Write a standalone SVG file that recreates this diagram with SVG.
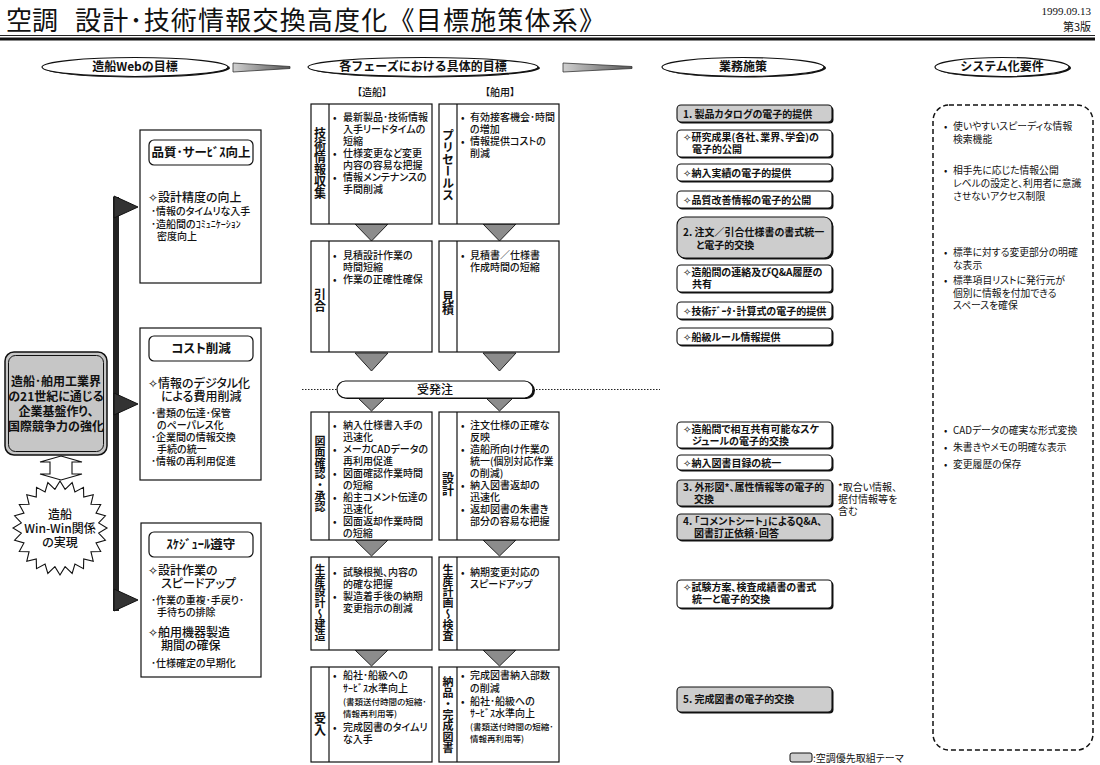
<svg xmlns="http://www.w3.org/2000/svg" width="1100" height="765" viewBox="0 0 1100 765">
<defs>
<linearGradient id="wedge" x1="0" x2="1" y1="0" y2="0"><stop offset="0" stop-color="#d0d0d0"/><stop offset="1" stop-color="#555"/></linearGradient>
</defs>
<style>
text{font-family:"Noto Sans CJK JP","DejaVu Sans",sans-serif;fill:#111;}
.title{font-size:26px;}
.date{font-family:"Liberation Serif",serif;font-size:11px;text-anchor:end;}
.ver{font-size:11px;text-anchor:end;}
.hd{font-size:12px;font-weight:bold;text-anchor:middle;}
.ell{fill:#fff;stroke:#111;stroke-width:1.2;}
.sh{fill:#111;stroke:none;}
.box{fill:#fff;stroke:#111;stroke-width:1.2;}
.div{stroke:#111;stroke-width:1.2;}
.vl{font-size:12px;font-weight:bold;writing-mode:vertical-rl;text-anchor:middle;}
.vs{font-size:11px;}
.bt{font-size:10px;font-weight:500;font-feature-settings:"palt";}
.sm{font-size:8.5px;}
.tri{fill:#8c8c8c;stroke:#222;stroke-width:1;}
.pol{fill:#fff;stroke:#111;stroke-width:1.1;}
.pri{fill:#cdcdcd;stroke:#111;stroke-width:1.1;}
.pt{font-size:10px;font-weight:bold;font-feature-settings:"palt";}
.req{font-size:9.8px;font-feature-settings:"palt";}
.lh{font-size:12.5px;font-weight:bold;text-anchor:middle;font-feature-settings:"palt";}
.lm{font-size:12px;font-weight:500;font-feature-settings:"palt";}
.ls{font-size:10px;font-weight:500;font-feature-settings:"palt";}
.goal{font-size:12px;font-weight:bold;text-anchor:middle;font-feature-settings:"palt";}
.note{font-size:10px;font-feature-settings:"palt";}
</style>
<rect width="1100" height="765" fill="#fff"/>

<g id="header">
<text class="title" x="6" y="30">空調</text>
<text class="title" x="75" y="30" textLength="530" lengthAdjust="spacing">設計･技術情報交換高度化《目標施策体系》</text>
<text class="date" x="1091" y="15">1999.09.13</text>
<text class="ver" x="1091" y="31">第3版</text>
<line x1="0" y1="35.5" x2="1095" y2="35.5" stroke="#222" stroke-width="1"/>
<line x1="0" y1="39" x2="1095" y2="39" stroke="#111" stroke-width="3"/>
</g>

<g id="h-goal">
<ellipse class="sh" cx="137" cy="68" rx="93" ry="9.5"/>
<ellipse class="ell" cx="135" cy="67" rx="93" ry="9.5"/>
<text class="hd" x="135" y="71">造船Webの目標</text>
</g>
<g id="h-phase">
<ellipse class="sh" cx="425" cy="68" rx="115" ry="9.5"/>
<ellipse class="ell" cx="423" cy="67" rx="115" ry="9.5"/>
<text class="hd" x="423" y="71">各フェーズにおける具体的目標</text>
</g>
<g id="h-measure">
<ellipse class="sh" cx="745" cy="68" rx="81" ry="9.5"/>
<ellipse class="ell" cx="743" cy="67" rx="81" ry="9.5"/>
<text class="hd" x="743" y="71">業務施策</text>
</g>
<g id="h-system">
<ellipse class="sh" cx="1004" cy="68" rx="67" ry="9.5"/>
<ellipse class="ell" cx="1002" cy="67" rx="67" ry="9.5"/>
<text class="hd" x="1002" y="71">システム化要件</text>
</g>

<g id="col-labels">
<text class="bt" x="372" y="96" text-anchor="middle">【造船】</text>
<text class="bt" x="500" y="96" text-anchor="middle">【舶用】</text>
</g>

<g id="connectors">
<polygon points="233,63 290,66.5 290,68.5 233,72" fill="url(#wedge)" stroke="#333" stroke-width="0.8"/>
<polygon points="563,63 632,66.5 632,68.5 563,72" fill="url(#wedge)" stroke="#333" stroke-width="0.8"/>
<rect x="113" y="197" width="6" height="414" fill="#222"/>
<polygon points="114,196 138,207 114,218" fill="#333" stroke="#111" stroke-width="1"/>
<polygon points="114,393 138,404 114,415" fill="#333" stroke="#111" stroke-width="1"/>
<polygon points="114,589 138,600 114,611" fill="#333" stroke="#111" stroke-width="1"/>
<polygon points="61,456 82,462 72,462 72,474 82,474 61,480 40,474 50,474 50,462 40,462" fill="#fff" stroke="#111" stroke-width="1.1"/>
<line x1="302" y1="389.5" x2="660" y2="389.5" stroke="#222" stroke-width="1.2" stroke-dasharray="1.5,1.5"/>
<polygon class="tri" points="355,224 388,224 371.5,241"/>
<polygon class="tri" points="483,224 516,224 499.5,241"/>
<polygon class="tri" points="355,353 388,353 371.5,371"/>
<polygon class="tri" points="483,353 516,353 499.5,371"/>
<polygon class="tri" points="358,398 385,398 371.5,411"/>
<polygon class="tri" points="486,398 513,398 499.5,411"/>
<polygon class="tri" points="355,540 388,540 371.5,556"/>
<polygon class="tri" points="483,540 516,540 499.5,556"/>
<polygon class="tri" points="355,650 388,650 371.5,666"/>
<polygon class="tri" points="483,650 516,650 499.5,666"/>
</g>

<g id="goal-main">
<rect x="5" y="352" width="102" height="103" rx="9" fill="#c6c6c6" stroke="#111" stroke-width="1.5"/>
<rect x="8.5" y="355.5" width="95" height="96" rx="7" fill="none" stroke="#111" stroke-width="1"/>
<text class="goal" x="56" y="386">造船･舶用工業界<tspan x="56" dy="15">の21世紀に通じる</tspan><tspan x="56" dy="15">企業基盤作り、</tspan><tspan x="56" dy="15">国際競争力の強化</tspan></text>
</g>

<g id="winwin">
<polygon points="107,528 98.66,533.09 105.4,540.16 96.03,542.93 100.7,551.5 90.94,551.74 93.23,561.23 83.74,558.94 83.5,568.7 74.93,564.03 72.16,573.4 65.09,566.66 60,575 54.91,566.66 47.84,573.4 45.07,564.03 36.5,568.7 36.26,558.94 26.77,561.23 29.06,551.74 19.3,551.5 23.97,542.93 14.6,540.16 21.34,533.09 13,528 21.34,522.91 14.6,515.84 23.97,513.07 19.3,504.5 29.06,504.26 26.77,494.77 36.26,497.06 36.5,487.3 45.07,491.97 47.84,482.6 54.91,489.34 60,481 65.09,489.34 72.16,482.6 74.93,491.97 83.5,487.3 83.74,497.06 93.23,494.77 90.94,504.26 100.7,504.5 96.03,513.07 105.4,515.84 98.66,522.91" fill="#fff" stroke="#111" stroke-width="1.1"/>
<text class="lm" x="60" y="519" text-anchor="middle">造船<tspan x="60" dy="14">Win-Win関係</tspan><tspan x="60" dy="14">の実現</tspan></text>
</g>

<g id="goal-quality">
<rect class="box" x="140" y="130" width="121" height="153"/>
<rect class="box" x="149" y="140" width="104" height="25" rx="5"/>
<text class="lh" x="201" y="157">品質･サーﾋﾞｽ向上</text>
<text class="lm" x="148" y="202">✧設計精度の向上</text>
<text class="ls" x="151" y="215">･情報のタイムリな入手<tspan x="151" dy="13">･造船間のｺﾐｭﾆｹｰｼｮﾝ</tspan><tspan x="157" dy="12">密度向上</tspan></text>
</g>

<g id="goal-cost">
<rect class="box" x="140" y="328" width="121" height="152"/>
<rect class="box" x="149" y="336" width="104" height="25" rx="5"/>
<text class="lh" x="201" y="353">コスト削減</text>
<text class="lm" x="148" y="388">✧情報のデジタル化<tspan x="161" dy="13">による費用削減</tspan></text>
<text class="ls" x="151" y="417">･書類の伝達･保管<tspan x="157" dy="12">のペーパレス化</tspan><tspan x="151" dy="12">･企業間の情報交換</tspan><tspan x="157" dy="12">手続の統一</tspan><tspan x="151" dy="12">･情報の再利用促進</tspan></text>
</g>

<g id="goal-schedule">
<rect class="box" x="141" y="523" width="120" height="154"/>
<rect class="box" x="149" y="532" width="104" height="25" rx="5"/>
<text class="lh" x="201" y="549">ｽｹｼﾞｭｰﾙ遵守</text>
<text class="lm" x="148" y="575">✧設計作業の<tspan x="161" dy="13">スピードアップ</tspan></text>
<text class="ls" x="151" y="604">･作業の重複･手戻り･<tspan x="157" dy="12">手待ちの排除</tspan></text>
<text class="lm" x="148" y="637">✧舶用機器製造<tspan x="161" dy="13">期間の確保</tspan></text>
<text class="ls" x="151" y="667">･仕様確定の早期化</text>
</g>

<g id="ph-ship-1">
<rect class="box" x="311" y="104" width="121" height="120"/>
<line class="div" x1="329" y1="104" x2="329" y2="224"/>
<text class="vl" x="320" y="163">技術情報収集</text>
<text class="bt" x="333" y="121">•<tspan x="333" dy="36">•</tspan><tspan x="333" dy="24">•</tspan></text>
<text class="bt" x="343" y="121">最新製品･技術情報<tspan x="343" dy="12">入手リードタイムの</tspan><tspan x="343" dy="12">短縮</tspan><tspan x="343" dy="12">仕様変更など変更</tspan><tspan x="343" dy="12">内容の容易な把握</tspan><tspan x="343" dy="12">情報メンテナンスの</tspan><tspan x="343" dy="12">手間削減</tspan></text>
</g>
<g id="ph-marine-1">
<rect class="box" x="439" y="104" width="120" height="120"/>
<line class="div" x1="457" y1="104" x2="457" y2="224"/>
<text class="vl" x="448" y="165">プリセールス</text>
<text class="bt" x="461" y="121">•<tspan x="461" dy="24">•</tspan></text>
<text class="bt" x="470" y="121">有効接客機会･時間<tspan x="470" dy="12">の増加</tspan><tspan x="470" dy="12">情報提供コストの</tspan><tspan x="470" dy="12">削減</tspan></text>
</g>

<g id="ph-ship-2">
<rect class="box" x="311" y="241" width="121" height="111"/>
<line class="div" x1="329" y1="241" x2="329" y2="352"/>
<text class="vl" x="320" y="300">引合</text>
<text class="bt" x="333" y="259">•<tspan x="333" dy="24">•</tspan></text>
<text class="bt" x="343" y="259">見積設計作業の<tspan x="343" dy="12">時間短縮</tspan><tspan x="343" dy="12">作業の正確性確保</tspan></text>
</g>
<g id="ph-marine-2">
<rect class="box" x="439" y="241" width="120" height="111"/>
<line class="div" x1="457" y1="241" x2="457" y2="352"/>
<text class="vl" x="448" y="303">見積</text>
<text class="bt" x="461" y="259">•</text>
<text class="bt" x="470" y="259">見積書／仕様書<tspan x="470" dy="12">作成時間の短縮</tspan></text>
</g>

<g id="order">
<rect class="sh" x="339" y="382" width="196" height="17" rx="8.5"/>
<rect class="box" x="337" y="381" width="196" height="17" rx="8.5"/>
<text class="hd" x="435" y="394" style="font-weight:500">受発注</text>
</g>

<g id="ph-ship-3">
<rect class="box" x="311" y="412" width="121" height="128"/>
<line class="div" x1="329" y1="412" x2="329" y2="540"/>
<text class="vl vs" x="320" y="474">図面確認・承認</text>
<text class="bt" x="333" y="429">•<tspan x="333" dy="24">•</tspan><tspan x="333" dy="24">•</tspan><tspan x="333" dy="24">•</tspan><tspan x="333" dy="24">•</tspan></text>
<text class="bt" x="343" y="429">納入仕様書入手の<tspan x="343" dy="12">迅速化</tspan><tspan x="343" dy="12">メーカCADデータの</tspan><tspan x="343" dy="12">再利用促進</tspan><tspan x="343" dy="12">図面確認作業時間</tspan><tspan x="343" dy="12">の短縮</tspan><tspan x="343" dy="12">船主コメント伝達の</tspan><tspan x="343" dy="12">迅速化</tspan><tspan x="343" dy="12">図面返却作業時間</tspan><tspan x="343" dy="12">の短縮</tspan></text>
</g>
<g id="ph-marine-3">
<rect class="box" x="439" y="412" width="120" height="128"/>
<line class="div" x1="457" y1="412" x2="457" y2="540"/>
<text class="vl" x="448" y="484">設計</text>
<text class="bt" x="461" y="429">•<tspan x="461" dy="24">•</tspan><tspan x="461" dy="36">•</tspan><tspan x="461" dy="24">•</tspan></text>
<text class="bt" x="470" y="429">注文仕様の正確な<tspan x="470" dy="12">反映</tspan><tspan x="470" dy="12">造船所向け作業の</tspan><tspan x="470" dy="12">統一(個別対応作業</tspan><tspan x="470" dy="12">の削減)</tspan><tspan x="470" dy="12">納入図書返却の</tspan><tspan x="470" dy="12">迅速化</tspan><tspan x="470" dy="12">返却図書の朱書き</tspan><tspan x="470" dy="12">部分の容易な把握</tspan></text>
</g>

<g id="ph-ship-4">
<rect class="box" x="311" y="557" width="121" height="93"/>
<line class="div" x1="329" y1="557" x2="329" y2="650"/>
<text class="vl vs" x="320" y="603">生産設計～建造</text>
<text class="bt" x="333" y="576">•<tspan x="333" dy="24">•</tspan></text>
<text class="bt" x="343" y="576">試験根拠、内容の<tspan x="343" dy="12">的確な把握</tspan><tspan x="343" dy="12">製造着手後の納期</tspan><tspan x="343" dy="12">変更指示の削減</tspan></text>
</g>
<g id="ph-marine-4">
<rect class="box" x="439" y="557" width="120" height="93"/>
<line class="div" x1="457" y1="557" x2="457" y2="650"/>
<text class="vl vs" x="448" y="603">生産計画～検査</text>
<text class="bt" x="461" y="576">•</text>
<text class="bt" x="470" y="576">納期変更対応の<tspan x="470" dy="12">スピードアップ</tspan></text>
</g>

<g id="ph-ship-5">
<rect class="box" x="311" y="667" width="121" height="95"/>
<line class="div" x1="329" y1="667" x2="329" y2="762"/>
<text class="vl" x="320" y="724">受入</text>
<text class="bt" x="333" y="679">•<tspan x="333" dy="52">•</tspan></text>
<text class="bt" x="343" y="679">船社･船級への<tspan x="343" dy="13">ｻｰﾋﾞｽ水準向上</tspan><tspan class="sm" x="343" dy="13">(書類送付時間の短縮･</tspan><tspan class="sm" x="343" dy="12">情報再利用等)</tspan><tspan x="343" dy="14">完成図書のタイムリ</tspan><tspan x="343" dy="12">な入手</tspan></text>
</g>
<g id="ph-marine-5">
<rect class="box" x="439" y="667" width="120" height="95"/>
<line class="div" x1="457" y1="667" x2="457" y2="762"/>
<text class="vl vs" x="448" y="715">納品・完成図書</text>
<text class="bt" x="461" y="679">•<tspan x="461" dy="26">•</tspan></text>
<text class="bt" x="470" y="679">完成図書納入部数<tspan x="470" dy="13">の削減</tspan><tspan x="470" dy="13">船社･船級への</tspan><tspan x="470" dy="12">ｻｰﾋﾞｽ水準向上</tspan><tspan class="sm" x="470" dy="13">(書類送付時間の短縮･</tspan><tspan class="sm" x="470" dy="12">情報再利用等)</tspan></text>
</g>

<g id="m1"><rect class="sh" x="678.5" y="106.5" width="155" height="17" rx="4"/><rect class="pri" x="677" y="105" width="155" height="17" rx="4"/><text class="pt" x="683" y="117.5">1. 製品カタログの電子的提供</text></g>
<g id="m2"><rect class="sh" x="678.5" y="131.5" width="155" height="27" rx="4"/><rect class="pol" x="677" y="130" width="155" height="27" rx="4"/><text class="pt" x="683" y="141">✧研究成果(各社、業界、学会)の<tspan x="692" dy="12">電子的公開</tspan></text></g>
<g id="m3"><rect class="sh" x="678.5" y="165.5" width="155" height="17" rx="4"/><rect class="pol" x="677" y="164" width="155" height="17" rx="4"/><text class="pt" x="683" y="176.5">✧納入実績の電子的提供</text></g>
<g id="m4"><rect class="sh" x="678.5" y="192.5" width="155" height="17" rx="4"/><rect class="pol" x="677" y="191" width="155" height="17" rx="4"/><text class="pt" x="683" y="203.5">✧品質改善情報の電子的公開</text></g>
<g id="m5"><rect class="sh" x="678.5" y="218.5" width="155" height="41" rx="8"/><rect class="pri" x="677" y="217" width="155" height="41" rx="8"/><text class="pt" x="683" y="236">2. 注文／引合仕様書の書式統一<tspan x="696" dy="13">と電子的交換</tspan></text></g>
<g id="m6"><rect class="sh" x="678.5" y="266.5" width="155" height="27" rx="4"/><rect class="pol" x="677" y="265" width="155" height="27" rx="4"/><text class="pt" x="683" y="276">✧造船間の連絡及びQ&amp;A履歴の<tspan x="692" dy="12">共有</tspan></text></g>
<g id="m7"><rect class="sh" x="678.5" y="303.5" width="155" height="17" rx="4"/><rect class="pol" x="677" y="302" width="155" height="17" rx="4"/><text class="pt" x="683" y="314.5">✧技術ﾃﾞｰﾀ･計算式の電子的提供</text></g>
<g id="m8"><rect class="sh" x="678.5" y="329.5" width="155" height="17" rx="4"/><rect class="pol" x="677" y="328" width="155" height="17" rx="4"/><text class="pt" x="683" y="340.5">✧船級ルール情報提供</text></g>
<g id="m9"><rect class="sh" x="678.5" y="423.5" width="155" height="26" rx="4"/><rect class="pol" x="677" y="422" width="155" height="26" rx="4"/><text class="pt" x="683" y="433">✧造船間で相互共有可能なスケ<tspan x="692" dy="12">ジュールの電子的交換</tspan></text></g>
<g id="m10"><rect class="sh" x="678.5" y="456.5" width="155" height="15" rx="4"/><rect class="pol" x="677" y="455" width="155" height="15" rx="4"/><text class="pt" x="683" y="466.5">✧納入図書目録の統一</text></g>
<g id="m11"><rect class="sh" x="678.5" y="481.5" width="155" height="26" rx="4"/><rect class="pri" x="677" y="480" width="155" height="26" rx="4"/><text class="pt" x="683" y="491">3. 外形図*、属性情報等の電子的<tspan x="694" dy="12">交換</tspan></text></g>
<g id="note"><text class="note" x="838" y="491">*取合い情報、<tspan x="838" dy="12">据付情報等を</tspan><tspan x="838" dy="12">含む</tspan></text></g>
<g id="m12"><rect class="sh" x="678.5" y="515.5" width="155" height="26" rx="4"/><rect class="pri" x="677" y="514" width="155" height="26" rx="4"/><text class="pt" x="683" y="525">4. 「コメントシート」によるQ&amp;A、<tspan x="694" dy="12">図書訂正依頼･回答</tspan></text></g>
<g id="m13"><rect class="sh" x="678.5" y="581.5" width="155" height="28" rx="4"/><rect class="pol" x="677" y="580" width="155" height="28" rx="4"/><text class="pt" x="683" y="591">✧試験方案、検査成績書の書式<tspan x="692" dy="12">統一と電子的交換</tspan></text></g>
<g id="m14"><rect class="sh" x="678.5" y="688.5" width="155" height="25" rx="4"/><rect class="pri" x="677" y="687" width="155" height="25" rx="4"/><text class="pt" x="683" y="703">5. 完成図書の電子的交換</text></g>

<g id="legend">
<rect x="790" y="753" width="22" height="9" rx="2" fill="#cdcdcd" stroke="#111" stroke-width="1"/>
<text class="note" x="813" y="762">:空調優先取組テーマ</text>
</g>

<g id="system">
<rect x="933" y="105" width="160" height="645" rx="16" fill="none" stroke="#111" stroke-width="1.5" stroke-dasharray="5,3"/>
<text class="req" x="944" y="130">•<tspan x="944" dy="44">•</tspan><tspan x="944" dy="82">•</tspan><tspan x="944" dy="28">•</tspan><tspan x="944" dy="150">•</tspan><tspan x="944" dy="17">•</tspan><tspan x="944" dy="17">•</tspan></text>
<text class="req" x="953" y="130">使いやすいスピーディな情報<tspan x="953" dy="13">検索機能</tspan></text>
<text class="req" x="953" y="174">相手先に応じた情報公開<tspan x="953" dy="13">レベルの設定と、利用者に意識</tspan><tspan x="953" dy="13">させないアクセス制限</tspan></text>
<text class="req" x="953" y="256">標準に対する変更部分の明確<tspan x="953" dy="13">な表示</tspan></text>
<text class="req" x="953" y="284">標準項目リストに発行元が<tspan x="953" dy="12.5">個別に情報を付加できる</tspan><tspan x="953" dy="12.5">スペースを確保</tspan></text>
<text class="req" x="953" y="434">CADデータの確実な形式変換</text>
<text class="req" x="953" y="451">朱書きやメモの明確な表示</text>
<text class="req" x="953" y="468">変更履歴の保存</text>
</g>
</svg>
